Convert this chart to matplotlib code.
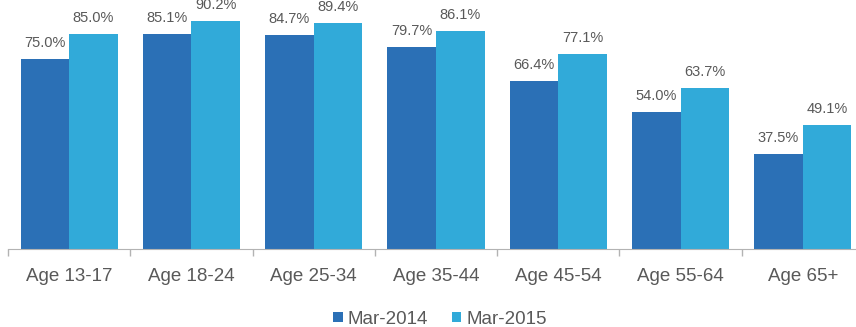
import numpy as np
import matplotlib.pyplot as plt

plt.rcParams['font.family'] = ['Liberation Sans', 'DejaVu Sans']

ages = ["Age 13-17", "Age 18-24", "Age 25-34", "Age 35-44",
        "Age 45-54", "Age 55-64", "Age 65+"]
mar_2014 = [75.0, 85.1, 84.7, 79.7, 66.4, 54.0, 37.5]
mar_2015 = [85.0, 90.2, 89.4, 86.1, 77.1, 63.7, 49.1]

dark = "#2b70b6"
light = "#31aad9"
grey_text = "#595959"

fig = plt.figure(figsize=(8.56, 3.27), dpi=100)
# axes runs a little past the right/top edge of the canvas
ax = fig.add_axes([8 / 856, 78 / 327, 856 / 856, 253 / 327])

x = np.arange(len(ages))
w = 0.397
b1 = ax.bar(x - w / 2, mar_2014, width=w, color=dark, label="Mar-2014")
b2 = ax.bar(x + w / 2, mar_2015, width=w, color=light, label="Mar-2015")

for bars, vals in ((b1, mar_2014), (b2, mar_2015)):
    for rect, v in zip(bars, vals):
        ax.annotate(f"{v:.1f}%", (rect.get_x() + rect.get_width() / 2, v),
                    xytext=(0, 6.5), textcoords="offset points",
                    ha="center", va="bottom", fontsize=10.5,
                    color=grey_text, annotation_clip=False)

ax.set_xlim(-0.5, 6.5)
ax.set_ylim(0, 100)
ax.set_yticks([])
ax.set_xticks(x)
ax.set_xticklabels(ages, fontsize=13.5, color=grey_text)
ax.tick_params(axis="x", which="major", length=0, pad=14)
ax.set_xticks(np.arange(-0.5, 7, 1), minor=True)
ax.tick_params(axis="x", which="minor", length=5, color="#b3b3b3", width=1)

for side in ("top", "right", "left"):
    ax.spines[side].set_visible(False)
ax.spines["bottom"].set_color("#b3b3b3")

fig.legend(handles=[b1, b2], loc="center", bbox_to_anchor=(440 / 856, 1 - 319 / 327),
           ncol=2, frameon=False, fontsize=13.5, labelcolor=grey_text,
           handlelength=0.5, handleheight=0.5, handletextpad=0.25,
           columnspacing=1.3)

fig.savefig("out.png", dpi=100)
